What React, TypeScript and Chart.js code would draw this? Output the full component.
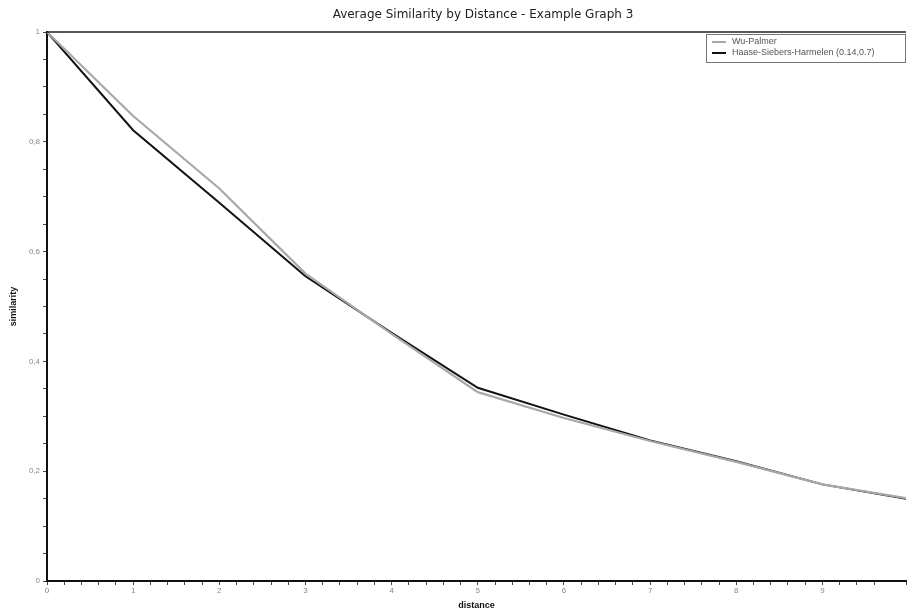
import React, { useEffect, useRef } from "react";
import { Chart, registerables } from "chart.js";

Chart.register(...registerables);

const distances = [0, 1, 2, 3, 4, 5, 6, 7, 8, 9, 10];
const wuPalmer = [1.0, 0.847, 0.715, 0.56, 0.45, 0.344, 0.297, 0.255, 0.217, 0.176, 0.15];
const haaseSiebersHarmelen = [1.0, 0.821, 0.689, 0.555, 0.452, 0.352, 0.303, 0.256, 0.218, 0.176, 0.149];
const seriesLabels = ["Wu-Palmer", "Haase-Siebers-Harmelen (0.14,0.7)"];
const chartTitle = "Average Similarity by Distance - Example Graph 3";
const xTitle = "distance";
const yTitle = "similarity";

const FONT = "'Liberation Sans', Arial, sans-serif";
const TITLE_FONT = "'DejaVu Sans', Verdana, sans-serif";

const framePlugin = {
  id: "frameAndLegend",
  afterDraw(chart: any) {
    const { ctx, chartArea } = chart;
    ctx.save();
    // title
    ctx.fillStyle = "#222";
    ctx.font = `12px ${TITLE_FONT}`;
    ctx.textAlign = "center";
    ctx.textBaseline = "middle";
    ctx.fillText(chartTitle, 483, 15);

    // top frame line
    ctx.strokeStyle = "#222";
    ctx.lineWidth = 1.5;
    ctx.beginPath();
    ctx.moveTo(chartArea.left, chartArea.top);
    ctx.lineTo(chartArea.right, chartArea.top);
    ctx.stroke();

    // legend box
    const bx = 706, by = 34, bw = 199, bh = 28;
    ctx.fillStyle = "#fff";
    ctx.fillRect(bx, by, bw, bh);
    ctx.strokeStyle = "#777";
    ctx.lineWidth = 1;
    ctx.strokeRect(bx + 0.5, by + 0.5, bw, bh);
    ctx.font = `9px ${FONT}`;
    ctx.textAlign = "left";
    ctx.textBaseline = "middle";
    chart.data.datasets.forEach((ds: any, i: number) => {
      const y = by + 8 + i * 11;
      ctx.strokeStyle = ds.borderColor;
      ctx.lineWidth = 2;
      ctx.beginPath();
      ctx.moveTo(bx + 6, y);
      ctx.lineTo(bx + 20, y);
      ctx.stroke();
      ctx.fillStyle = "#555";
      ctx.fillText(ds.label, bx + 26, y);
    });
    ctx.restore();
  },
};

export default function App() {
  const ref = useRef<HTMLCanvasElement | null>(null);

  useEffect(() => {
    if (!ref.current) return;
    const chart = new Chart(ref.current, {
      type: "line",
      data: {
        datasets: [
          {
            label: seriesLabels[0],
            data: distances.map((d, i) => ({ x: d, y: wuPalmer[i] })),
            borderColor: "#a8a8a8",
            borderWidth: 2.2,
            pointRadius: 0,
            tension: 0,
          },
          {
            label: seriesLabels[1],
            data: distances.map((d, i) => ({ x: d, y: haaseSiebersHarmelen[i] })),
            borderColor: "#111",
            borderWidth: 2,
            pointRadius: 0,
            tension: 0,
          },
        ],
      },
      plugins: [framePlugin],
      options: {
        animation: false,
        responsive: false,
        maintainAspectRatio: false,
        layout: { padding: { left: 0, right: 0, top: 32, bottom: 0 } },
        plugins: {
          legend: { display: false },
          tooltip: { enabled: false },
          title: { display: false },
        },
        scales: {
          x: {
            type: "linear",
            min: 0,
            max: 9.97,
            afterFit: (s: any) => {
              s.height = 30;
            },
            ticks: {
              stepSize: 0.2,
              autoSkip: false,
              maxRotation: 0,
              maxTicksLimit: 1000,
              color: "#888",
              font: { family: FONT, size: 8 },
              padding: 1,
              callback: (v: any) => {
                const n = Number(v);
                return Math.abs(n - Math.round(n)) < 1e-6 ? String(Math.round(n)) : "";
              },
            },
            grid: {
              drawOnChartArea: false,
              drawTicks: true,
              tickLength: 4,
              color: "#444",
            },
            border: { display: true, color: "#111", width: 2 },
            title: {
              display: true,
              text: xTitle,
              color: "#111",
              font: { family: FONT, size: 9, weight: "bold" },
              padding: { top: 0, bottom: 0 },
            },
          },
          y: {
            type: "linear",
            min: 0,
            max: 1,
            afterFit: (s: any) => {
              s.width = 47;
            },
            ticks: {
              stepSize: 0.05,
              autoSkip: false,
              maxTicksLimit: 1000,
              color: "#888",
              font: { family: FONT, size: 8 },
              padding: 3,
              callback: (v: any) => {
                const n = Number(v);
                const k = Math.round(n / 0.2);
                if (Math.abs(n - k * 0.2) > 1e-6) return "";
                const val = k * 0.2;
                if (k === 0) return "0";
                if (k === 5) return "1";
                return val.toFixed(1).replace(".", ",");
              },
            },
            grid: {
              drawOnChartArea: false,
              drawTicks: true,
              tickLength: 4,
              color: "#444",
            },
            border: { display: true, color: "#111", width: 2 },
            title: {
              display: true,
              text: yTitle,
              color: "#111",
              font: { family: FONT, size: 9, weight: "bold" },
              padding: { top: 8, bottom: 0 },
            },
          },
        },
      },
    } as any);
    return () => chart.destroy();
  }, []);

  return (
    <div style={{ position: "fixed", left: 0, top: 0, width: 907, height: 611, background: "#fff" }}>
      <canvas ref={ref} width={907} height={611} style={{ width: 907, height: 611, display: "block" }} />
    </div>
  );
}
